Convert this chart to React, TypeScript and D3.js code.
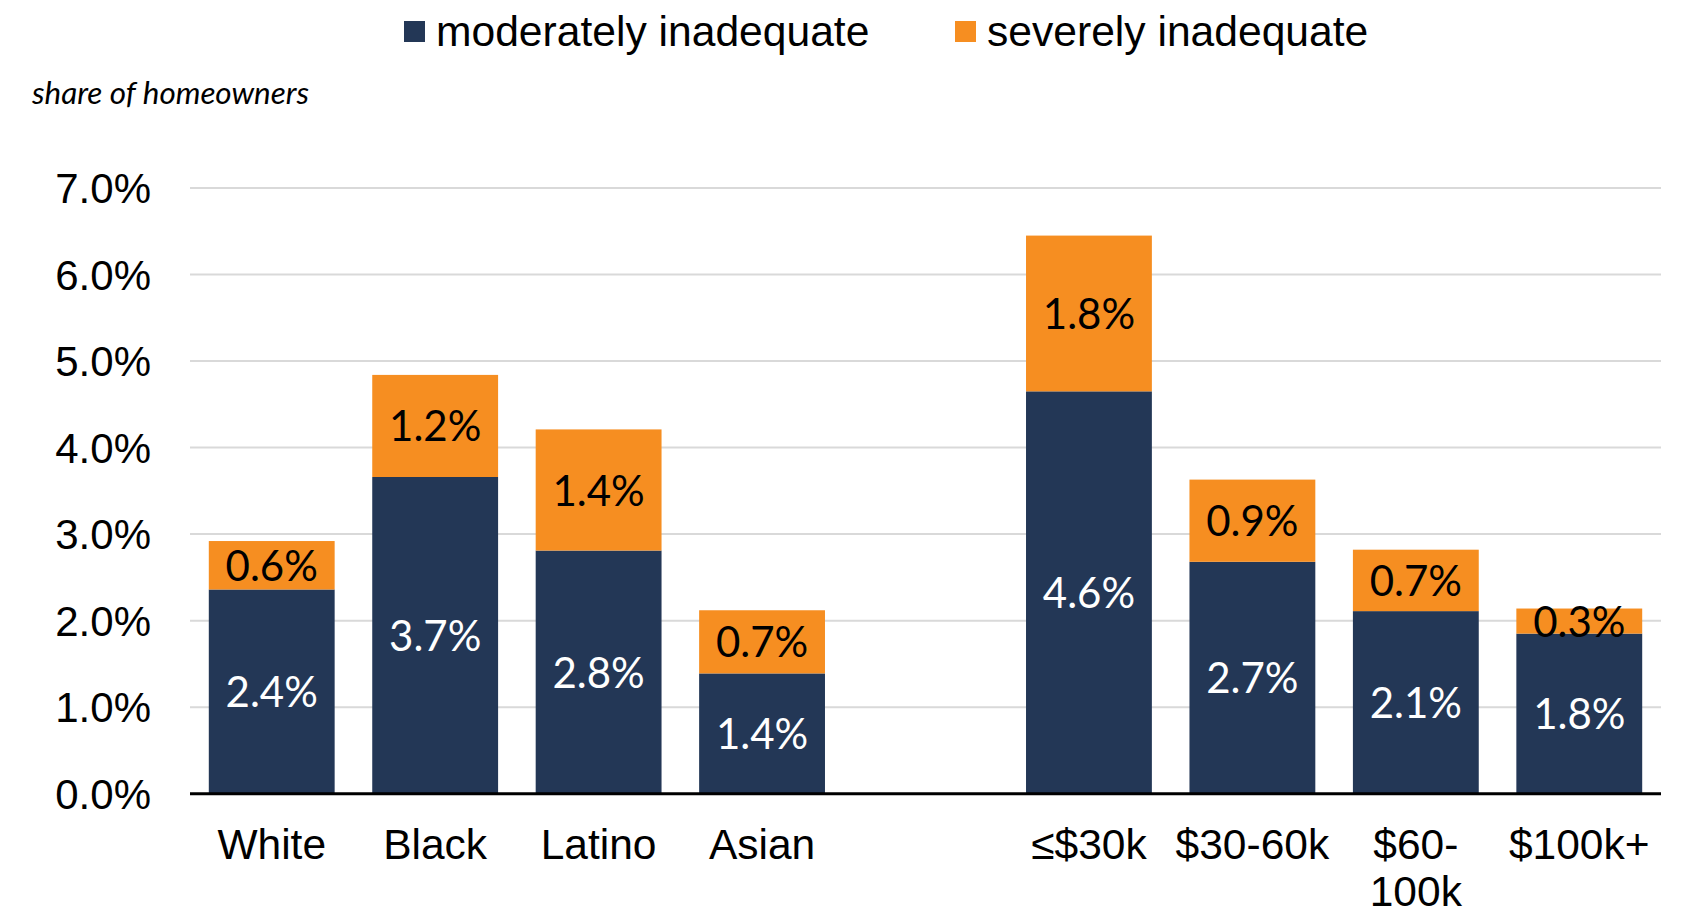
import React from "react";
import * as d3 from "d3";

const categories = ["White", "Black", "Latino", "Asian", "", "≤$30k", "$30-60k", "$60-100k", "$100k+"];
const categoryLabels = ["White", "Black", "Latino", "Asian", "", "≤$30k", "$30-60k", "$60-\n100k", "$100k+"];
const moderate = [2.36, 3.66, 2.81, 1.39, null, 4.65, 2.68, 2.11, 1.85];
const severe = [0.56, 1.18, 1.40, 0.73, null, 1.80, 0.95, 0.71, 0.29];
const moderateLabels = ["2.4%", "3.7%", "2.8%", "1.4%", "", "4.6%", "2.7%", "2.1%", "1.8%"];
const severeLabels = ["0.6%", "1.2%", "1.4%", "0.7%", "", "1.8%", "0.9%", "0.7%", "0.3%"];
const yTicks = [0, 1, 2, 3, 4, 5, 6, 7];
const seriesNames = ["moderately inadequate", "severely inadequate"];
const colors = ["#233756", "#F68E21"];

const W = 1684;
const H = 910;

export default function App() {
  const x = d3.scaleBand<string>().domain(categories.map((c, i) => String(i))).range([190, 1661]).paddingInner(0.23).paddingOuter(0.115);
  const y = d3.scaleLinear().domain([0, 7]).range([793.7, 188]);
  const sans = "'Liberation Sans', Arial, sans-serif";
  const lato = "Lato, sans-serif";

  return (
    <svg width={W} height={H} style={{ position: "absolute", left: 0, top: 0, background: "#fff" }} xmlns="http://www.w3.org/2000/svg">
      {/* legend */}
      <rect x={404} y={21} width={21} height={21} fill={colors[0]} />
      <text x={436} y={46} fontFamily={sans} fontSize={42.6} fill="#000">{seriesNames[0]}</text>
      <rect x={955} y={21} width={21} height={21} fill={colors[1]} />
      <text x={987} y={46} fontFamily={sans} fontSize={42.6} fill="#000">{seriesNames[1]}</text>

      {/* axis title */}
      <text x={32} y={104} fontFamily={lato} fontStyle="italic" fontSize={31.4} fill="#000">share of homeowners</text>

      {/* gridlines */}
      {yTicks.filter(t => t > 0).map(t => (
        <line key={t} x1={190} x2={1661} y1={y(t)} y2={y(t)} stroke="#d9d9d9" strokeWidth={2} />
      ))}
      {/* y labels */}
      {yTicks.map(t => (
        <text key={t} x={151} y={y(t)} dy="0.36em" textAnchor="end" fontFamily={sans} fontSize={42} fill="#000">{t.toFixed(1) + "%"}</text>
      ))}

      {/* bars */}
      {categories.map((c, i) => {
        const m = moderate[i];
        const s = severe[i];
        if (m == null || s == null) return null;
        const bx = x(String(i))!;
        const bw = x.bandwidth();
        const cx = bx + bw / 2;
        return (
          <g key={i}>
            <rect x={bx} y={y(m)} width={bw} height={y(0) - y(m)} fill={colors[0]} />
            <rect x={bx} y={y(m + s)} width={bw} height={y(m) - y(m + s)} fill={colors[1]} />
            <text x={cx} y={(y(0) + y(m)) / 2} dy="0.37em" textAnchor="middle" fontFamily={lato} fontSize={42} fill="#fff">{moderateLabels[i]}</text>
            <text x={cx} y={(y(m) + y(m + s)) / 2} dy="0.37em" textAnchor="middle" fontFamily={lato} fontSize={42} fill="#000">{severeLabels[i]}</text>
          </g>
        );
      })}

      {/* zero axis */}
      <line x1={190} x2={1661} y1={y(0)} y2={y(0)} stroke="#000" strokeWidth={3} />

      {/* x labels */}
      {categoryLabels.map((lab, i) => {
        if (!lab) return null;
        const cx = x(String(i))! + x.bandwidth() / 2;
        return (
          <text key={i} x={cx} y={859} textAnchor="middle" fontFamily={sans} fontSize={42.5} fill="#000">
            {lab.split("\n").map((ln, j) => (
              <tspan key={j} x={cx} dy={j === 0 ? 0 : 47}>{ln}</tspan>
            ))}
          </text>
        );
      })}
    </svg>
  );
}
